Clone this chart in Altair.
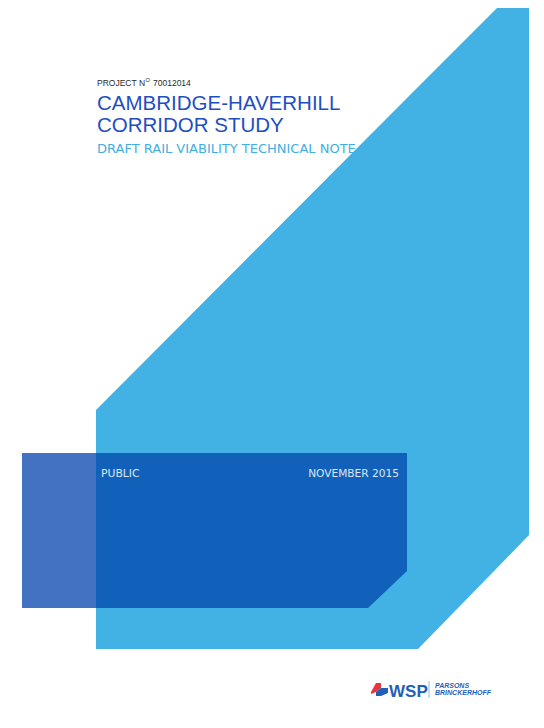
import altair as alt
import pandas as pd

# ---- shapes (page pixel coordinates: x across, y down) ----
LIGHT_X = [96, 418, 498, 529]
LIGHT_TOP = [410, 87, 7, 7]
LIGHT_BOTTOM = [649, 649, 567, 535]

BAND_X = [96, 368, 407]
BAND_TOP = [453, 453, 453]
BAND_BOTTOM = [608, 608, 571]

TAB_X = [22, 96]
TAB_TOP = [453, 453]
TAB_BOTTOM = [608, 608]

LOGO_RED_X = [371, 376, 381]
LOGO_RED_TOP = [692, 683, 683]
LOGO_RED_BOTTOM = [694, 692, 688]
LOGO_BLUE_X = [376, 381, 388]
LOGO_BLUE_TOP = [692, 688, 688]
LOGO_BLUE_BOTTOM = [696, 696, 693]

# ---- texts ----
PROJECT_LABEL = ["PROJECT N"]
PROJECT_SUP = ["O"]
PROJECT_NUMBER = ["70012014"]
TITLE_LINES = ["CAMBRIDGE-HAVERHILL", "CORRIDOR STUDY"]
SUBTITLE = ["DRAFT RAIL VIABILITY TECHNICAL NOTE"]
BAND_LEFT = ["PUBLIC"]
BAND_RIGHT = ["NOVEMBER 2015"]
LOGO_MAIN = ["WSP"]
LOGO_SUB = ["PARSONS", "BRINCKERHOFF"]

X_SCALE = alt.Scale(domain=[8, 536], nice=False, zero=False)
Y_SCALE = alt.Scale(domain=[8, 720], nice=False, zero=False, reverse=True)


def area_layer(xs, tops, bottoms, color):
    df = pd.DataFrame({"x": xs, "top": tops, "bottom": bottoms})
    return alt.Chart(df).mark_area(color=color, opacity=1, interpolate="linear").encode(
        x=alt.X("x:Q", scale=X_SCALE, axis=None),
        y=alt.Y("top:Q", scale=Y_SCALE, axis=None),
        y2="bottom:Q",
    )


def text_layer(texts, xs, ys, size, color, font="Liberation Sans", weight="normal",
               align="left", style="normal"):
    df = pd.DataFrame({"x": xs, "y": ys, "t": texts})
    return alt.Chart(df).mark_text(
        align=align, baseline="alphabetic", font=font, fontSize=size,
        fontWeight=weight, fontStyle=style, color=color,
    ).encode(
        x=alt.X("x:Q", scale=X_SCALE, axis=None),
        y=alt.Y("y:Q", scale=Y_SCALE, axis=None),
        text="t:N",
    )


divider = alt.Chart(pd.DataFrame({"x": [429], "y": [681], "y2": [698]})).mark_rule(
    color="#9DB8D8", strokeWidth=1
).encode(
    x=alt.X("x:Q", scale=X_SCALE, axis=None),
    y=alt.Y("y:Q", scale=Y_SCALE, axis=None),
    y2="y2:Q",
)

layers = [
    area_layer(LIGHT_X, LIGHT_TOP, LIGHT_BOTTOM, "#41B2E3"),
    area_layer(TAB_X, TAB_TOP, TAB_BOTTOM, "#4472C2"),
    area_layer(BAND_X, BAND_TOP, BAND_BOTTOM, "#1161BA"),
    text_layer(PROJECT_LABEL, [97], [86], 8.5, "#2a2a2a"),
    text_layer(PROJECT_SUP, [145.5], [81.5], 5.5, "#2a2a2a"),
    text_layer(PROJECT_NUMBER, [153], [86], 8.5, "#2a2a2a"),
    text_layer(TITLE_LINES, [97, 97], [109.5, 132], 20.5, "#1F4FBF"),
    text_layer(SUBTITLE, [97], [153], 13, "#3FAEE2", font="DejaVu Sans"),
    text_layer(BAND_LEFT, [101], [477], 10.8, "#DCE6F5", font="DejaVu Sans"),
    text_layer(BAND_RIGHT, [399], [477], 10.6, "#DCE6F5", font="DejaVu Sans", align="right"),
    area_layer(LOGO_RED_X, LOGO_RED_TOP, LOGO_RED_BOTTOM, "#E8343C"),
    area_layer(LOGO_BLUE_X, LOGO_BLUE_TOP, LOGO_BLUE_BOTTOM, "#1F5FB8"),
    text_layer(LOGO_MAIN, [389], [697], 17, "#1F5FB8", weight="bold"),
    divider,
    text_layer(LOGO_SUB, [435, 435], [687.5, 695], 7, "#1F5FB8", weight="bold", style="italic"),
]

chart = alt.layer(*layers).properties(
    width=528, height=712,
    autosize=alt.AutoSizeParams(type="none"),
    padding=0,
    background="#ffffff",
).configure_view(stroke=None)

chart.save("out.html", embed_options={"renderer": "svg", "actions": False})
